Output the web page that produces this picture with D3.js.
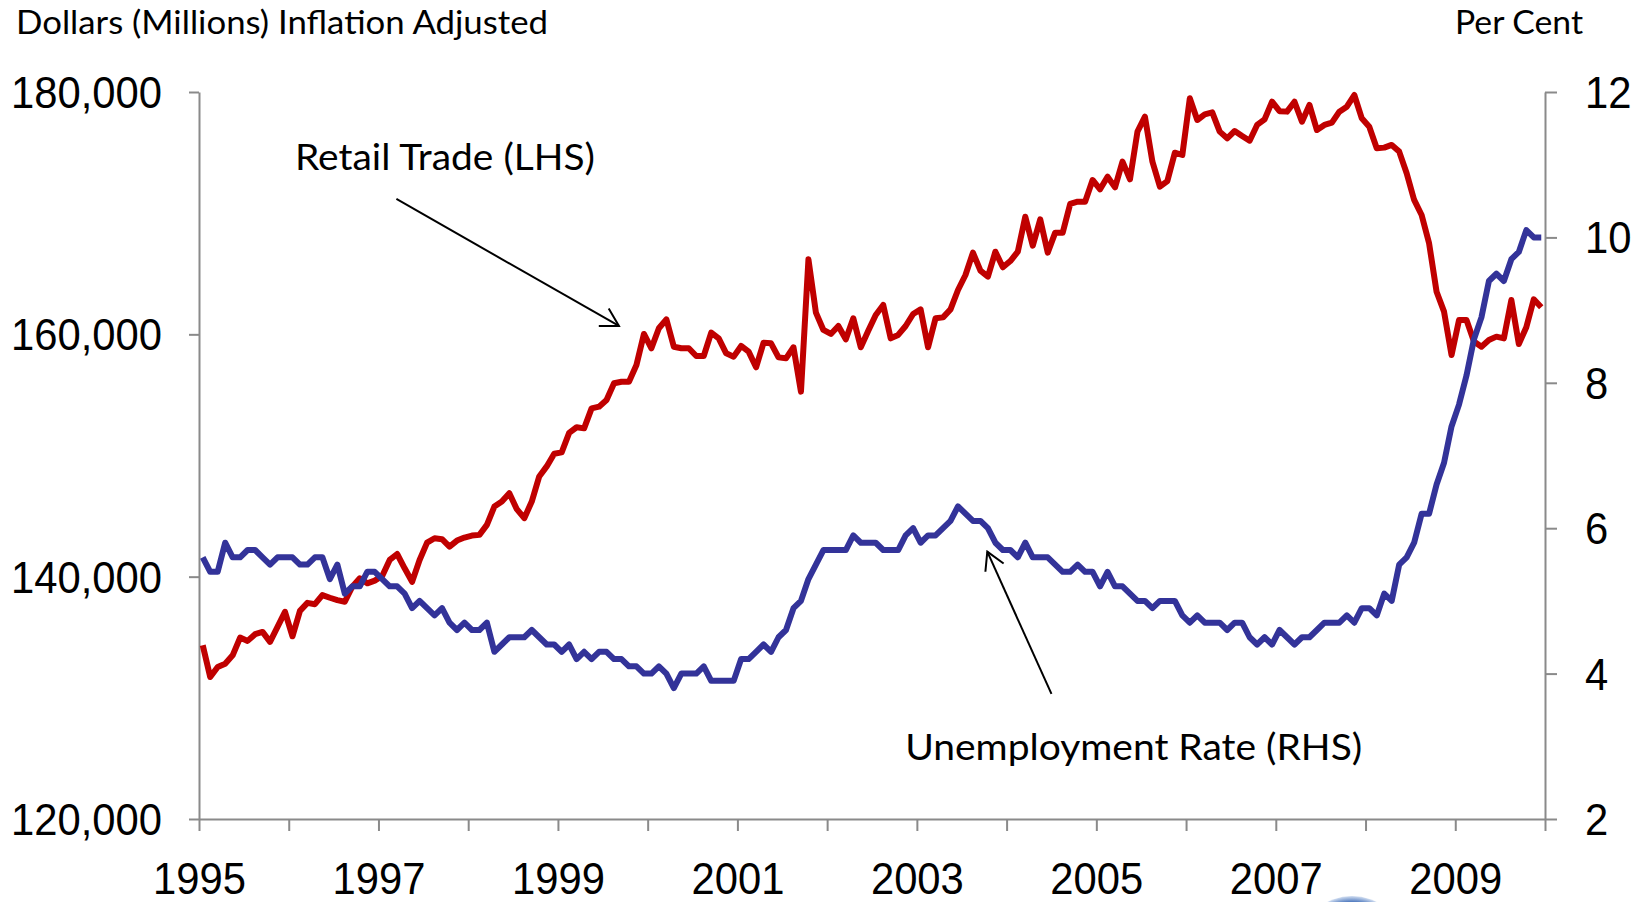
<!DOCTYPE html>
<head>
    <meta charset="utf-8">
    <script src="https://d3js.org/d3.v7.min.js"></script>
    <style>
        body { margin: 0; background: #ffffff; }
        .axis path, .axis line { stroke: #8a8a8a; stroke-width: 2px; }
        .axis text { font-family: "Liberation Sans", Arial, sans-serif; font-size: 44px; fill: #000; }
        .note { font-family: Lato, "Open Sans", sans-serif; fill: #000; }
    </style>
</head>

<body>
    <div id="chart"></div>
    <script>
        // monthly series, Jan 1995 .. Dec 2009
        var startYear = 1995
        var endYear = 2010

        // retail trade, dollars (millions) inflation adjusted
        var retail = [
            134340, 131720, 132550, 132820, 133510, 134970, 134700, 135250, 135440, 134620, 135860, 137100, // 1995
            135080, 137180, 137840, 137730, 138480, 138260, 138070, 137930, 139170, 139860, 139450, 139670, // 1996
            140050, 141380, 141870, 140690, 139580, 141380, 142810, 143170, 143090, 142480, 142980, 143230, // 1997
            143390, 143450, 144270, 145790, 146200, 146890, 145570, 144830, 146200, 148270, 149100, 150150, // 1998
            150260, 151870, 152330, 152240, 153890, 154030, 154580, 155960, 156090, 156090, 157470, 160030, // 1999
            158850, 160500, 161240, 158980, 158850, 158850, 158210, 158210, 160140, 159670, 158430, 158160, // 2000
            159040, 158570, 157280, 159310, 159260, 158100, 158020, 158930, 155270, 166190, 161790, 160360, // 2001
            160030, 160690, 159590, 161320, 158930, 160300, 161600, 162420, 159670, 159950, 160690, 161680, // 2002
            162060, 158930, 161320, 161400, 162060, 163660, 164900, 166740, 165250, 164760, 166820, 165530, // 2003
            166050, 166820, 169710, 167320, 169490, 166740, 168390, 168390, 170760, 170950, 170950, 172740, // 2004
            171970, 173010, 172130, 174250, 172790, 176730, 177960, 174250, 172190, 172650, 174990, 174800, // 2005
            179480, 177690, 178160, 178320, 176730, 176180, 176780, 176370, 175980, 177280, 177740, 179200, // 2006
            178420, 178380, 179200, 177550, 178930, 176860, 177280, 177470, 178380, 178790, 179750, 177830, // 2007
            177140, 175350, 175410, 175630, 175080, 173290, 171090, 169850, 167510, 163520, 161870, 158290, // 2008
            161180, 161180, 159400, 158980, 159530, 159810, 159670, 162830, 159200, 160580, 162890, 162230  // 2009
        ]

        // unemployment rate, per cent
        var unemployment = [
            5.6, 5.4, 5.4, 5.8, 5.6, 5.6, 5.7, 5.7, 5.6, 5.5, 5.6, 5.6, // 1995
            5.6, 5.5, 5.5, 5.6, 5.6, 5.3, 5.5, 5.1, 5.2, 5.2, 5.4, 5.4, // 1996
            5.3, 5.2, 5.2, 5.1, 4.9, 5.0, 4.9, 4.8, 4.9, 4.7, 4.6, 4.7, // 1997
            4.6, 4.6, 4.7, 4.3, 4.4, 4.5, 4.5, 4.5, 4.6, 4.5, 4.4, 4.4, // 1998
            4.3, 4.4, 4.2, 4.3, 4.2, 4.3, 4.3, 4.2, 4.2, 4.1, 4.1, 4.0, // 1999
            4.0, 4.1, 4.0, 3.8, 4.0, 4.0, 4.0, 4.1, 3.9, 3.9, 3.9, 3.9, // 2000
            4.2, 4.2, 4.3, 4.4, 4.3, 4.5, 4.6, 4.9, 5.0, 5.3, 5.5, 5.7, // 2001
            5.7, 5.7, 5.7, 5.9, 5.8, 5.8, 5.8, 5.7, 5.7, 5.7, 5.9, 6.0, // 2002
            5.8, 5.9, 5.9, 6.0, 6.1, 6.3, 6.2, 6.1, 6.1, 6.0, 5.8, 5.7, // 2003
            5.7, 5.6, 5.8, 5.6, 5.6, 5.6, 5.5, 5.4, 5.4, 5.5, 5.4, 5.4, // 2004
            5.2, 5.4, 5.2, 5.2, 5.1, 5.0, 5.0, 4.9, 5.0, 5.0, 5.0, 4.8, // 2005
            4.7, 4.8, 4.7, 4.7, 4.7, 4.6, 4.7, 4.7, 4.5, 4.4, 4.5, 4.4, // 2006
            4.6, 4.5, 4.4, 4.5, 4.5, 4.6, 4.7, 4.7, 4.7, 4.8, 4.7, 4.9, // 2007
            4.9, 4.8, 5.1, 5.0, 5.5, 5.6, 5.8, 6.2, 6.2, 6.6, 6.9, 7.4, // 2008
            7.7, 8.1, 8.6, 8.9, 9.4, 9.5, 9.4, 9.7, 9.8, 10.1, 10.0, 10.0 // 2009
        ]

        var leftTicks = [120000, 140000, 160000, 180000]
        var rightTicks = [2, 4, 6, 8, 10, 12]
        var yearTicks = d3.range(startYear, endYear + 1)

        var chart = function() {
            var canvasDim = { width: 1644, height: 902 }
            var margin = { top: 92, right: 99, bottom: 83, left: 199 }
            var width = canvasDim.width - margin.left - margin.right
            var height = canvasDim.height - margin.top - margin.bottom
            var squeeze = 0.95

            var svg = d3.select("#chart").append("svg")
                .attr("width", canvasDim.width)
                .attr("height", canvasDim.height)

            var defs = svg.append("defs")

            // logo blob peeking in at the bottom edge
            var grad = defs.append("radialGradient")
                .attr("id", "blob")
            grad.append("stop").attr("offset", "0%").attr("stop-color", "#0b3d91")
            grad.append("stop").attr("offset", "82%").attr("stop-color", "#2a5db0")
            grad.append("stop").attr("offset", "100%").attr("stop-color", "#d4e0f2")

            defs.append("marker")
                .attr("id", "arrow")
                .attr("markerUnits", "userSpaceOnUse")
                .attr("viewBox", "-22 -13 24 26")
                .attr("markerWidth", 24)
                .attr("markerHeight", 26)
                .attr("refX", 0)
                .attr("refY", 0)
                .attr("orient", "auto")
                .append("path")
                .attr("d", "M-17.5,-10 L0,0 L-17.5,10")
                .attr("fill", "none")
                .attr("stroke", "#000")
                .attr("stroke-width", 2)

            svg.append("ellipse")
                .attr("cx", 1352).attr("cy", 938)
                .attr("rx", 48).attr("ry", 42)
                .attr("fill", "url(#blob)")

            var g = svg.append("g")
                .attr("transform", "translate(" + margin.left + "," + margin.top + ")")

            var x = d3.scaleLinear().domain([0, retail.length]).range([0, width])
            var xYear = d3.scaleLinear().domain([startYear, endYear]).range([0, width])
            var yLeft = d3.scaleLinear().domain([120000, 180000]).range([height, 0])
            var yRight = d3.scaleLinear().domain([2, 12]).range([height, 0])

            // axes
            var gx = g.append("g").attr("class", "axis")
                .attr("transform", "translate(0," + height + ")")
                .call(d3.axisBottom(xYear).tickValues(yearTicks).tickSize(12).tickSizeOuter(0)
                    .tickFormat(function(d) { return (d - startYear) % 2 === 0 && d < endYear ? d : "" }))
            gx.selectAll("text")
                .attr("y", 75).attr("dy", 0)
                .attr("transform", "scale(" + squeeze + ",1)")

            var gl = g.append("g").attr("class", "axis")
                .call(d3.axisLeft(yLeft).tickValues(leftTicks).tickSize(10).tickSizeOuter(0)
                    .tickFormat(d3.format(",")))
            gl.selectAll("text")
                .attr("x", -37 / squeeze).attr("dy", "0.35em")
                .attr("transform", "scale(" + squeeze + ",1)")

            var gr = g.append("g").attr("class", "axis")
                .attr("transform", "translate(" + width + ",0)")
                .call(d3.axisRight(yRight).tickValues(rightTicks).tickSize(12).tickSizeOuter(0))
            gr.selectAll("text")
                .attr("x", 40 / squeeze).attr("dy", "0.35em")
                .attr("transform", "scale(" + squeeze + ",1)")

            // lines
            var retailLine = d3.line()
                .x(function(d, i) { return x(i + 0.5) })
                .y(function(d) { return yLeft(d) })
            var unempLine = d3.line()
                .x(function(d, i) { return x(i + 0.5) })
                .y(function(d) { return yRight(d) })

            g.append("path").datum(retail)
                .attr("d", retailLine)
                .attr("fill", "none")
                .attr("stroke", "#c00000")
                .attr("stroke-width", 6)
                .attr("stroke-linejoin", "round")

            g.append("path").datum(unemployment)
                .attr("d", unempLine)
                .attr("fill", "none")
                .attr("stroke", "#333399")
                .attr("stroke-width", 6)
                .attr("stroke-linejoin", "round")

            // titles
            svg.append("text").attr("class", "note")
                .attr("x", 16).attr("y", 34)
                .attr("font-size", 33)
                .attr("textLength", 532).attr("lengthAdjust", "spacingAndGlyphs")
                .text("Dollars (Millions) Inflation Adjusted")
            svg.append("text").attr("class", "note")
                .attr("x", 1455).attr("y", 34)
                .attr("font-size", 33)
                .attr("textLength", 128).attr("lengthAdjust", "spacingAndGlyphs")
                .text("Per Cent")

            // annotations, placed in data units
            g.append("text").attr("class", "note")
                .attr("x", xYear(1996.07)).attr("y", yLeft(173560))
                .attr("font-size", 37)
                .attr("textLength", 300).attr("lengthAdjust", "spacingAndGlyphs")
                .text("Retail Trade (LHS)")
            g.append("line")
                .attr("x1", xYear(1997.2)).attr("y1", yLeft(171170))
                .attr("x2", xYear(1999.68)).attr("y2", yLeft(160690))
                .attr("stroke", "#000").attr("stroke-width", 2)
                .attr("marker-end", "url(#arrow)")

            g.append("text").attr("class", "note")
                .attr("x", xYear(2002.87)).attr("y", yRight(2.81))
                .attr("font-size", 37)
                .attr("textLength", 457).attr("lengthAdjust", "spacingAndGlyphs")
                .text("Unemployment Rate (RHS)")
            g.append("line")
                .attr("x1", xYear(2004.5)).attr("y1", yRight(3.72))
                .attr("x2", xYear(2003.785)).attr("y2", yRight(5.677))
                .attr("stroke", "#000").attr("stroke-width", 2)
                .attr("marker-end", "url(#arrow)")
        }()
    </script>
</body>
</html>
